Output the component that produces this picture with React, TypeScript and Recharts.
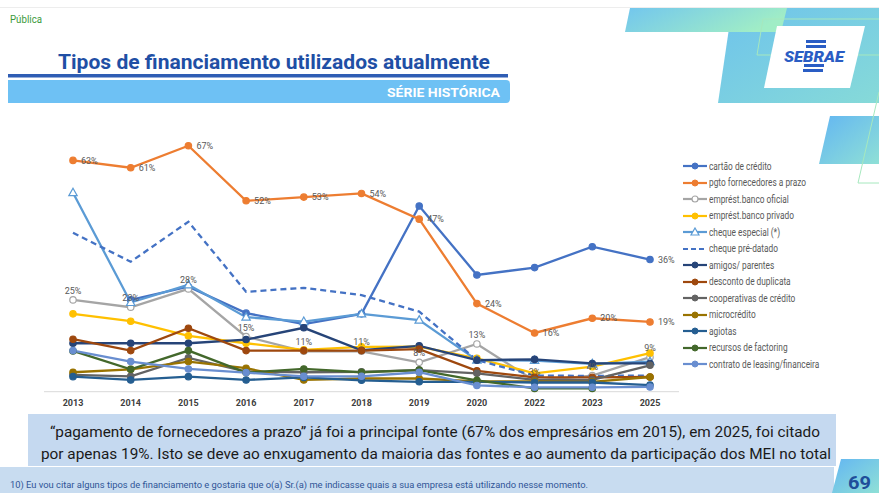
import React from 'react';
import { LineChart, Line, XAxis, YAxis, Legend, LabelList } from 'recharts';

const years = ['2013', '2014', '2015', '2016', '2017', '2018', '2019', '2020', '2022', '2023', '2025'];

const cartaoCredito = [null, 25, 28.6, 21.4, 18.4, 21.2, 50.6, 31.8, 33.8, 39.5, 36];
const pgtoFornecedores = [63, 61, 67, 52, 53, 54, 47, 24, 16, 20, 19];
const emprestOficial = [25, 23, 28, 15, 11, 11, 8, 13, 3, 4.4, 9.4];
const emprestPrivado = [21.2, 19.2, 15.2, 13.2, 11.4, 12.2, 12.3, 9.1, 5, 6.8, 10.5];
const chequeEspecial = [54.2, 24.3, 29.1, 20.3, 19.1, 21.2, 19.5, 8.6, 8.5, 7.6, 8.2];
const chequePreDatado = [43.3, 35.4, 46.3, 27.2, 28.3, 26.3, 21.8, 8.6, 4.4, 4.3, 4.4];
const amigosParentes = [13.2, 13.2, 13.2, 14.2, 17.4, 11.3, 12.5, 8.6, 8.8, 7.7, 7.7];
const descontoDuplicata = [14.3, 11.2, 17.3, 11.2, 11.2, 11.2, 11.6, 5.7, 3.9, 3.9, 4];
const cooperativas = [4.6, 4.2, 9.2, 5.5, 5.3, 5.4, 5.9, 5, 3.2, 3.2, 7.2];
const microcredito = [5.3, 6.1, 8.2, 6.4, 3.2, 3.6, 3.6, 2.8, 2.8, 2.7, 4];
const agiotas = [4.1, 3.2, 4.1, 3.2, 3.9, 3.1, 2.7, 2.7, 2.5, 2.5, 1.8];
const factoring = [11.1, 6.1, 11.2, 5.2, 6.2, 5.3, 5.9, 3.1, 0.9, 0.9, null];
const leasing = [11.2, 8.2, 6.2, 5.2, 4.2, 4.2, 5.3, 1.7, 1.2, 1.2, 1.3];

const pgtoLabels = ['63%', '61%', '67%', '52%', '53%', '54%', '47%', '24%', '16%', '20%', '19%'];
const oficialLabels = ['25%', '23%', '28%', '15%', '11%', '11%', '8%', '13%', '3%', '4%', '9%'];
const cartaoLabels = ['', '', '', '', '', '', '', '', '', '', '36%'];

const FONT = 'Roboto, "Noto Sans", sans-serif';

type Marker = 'dot' | 'hollow' | 'triangle' | 'none';
interface SeriesDef {
  key: string;
  name: string;
  color: string;
  values: (number | null)[];
  marker: Marker;
  dash?: string;
  labels?: string[];
  labelPos?: 'right' | 'top';
}

const series: SeriesDef[] = [
  { key: 's0', name: 'cartão de crédito', color: '#4472C4', values: cartaoCredito, marker: 'dot', labels: cartaoLabels, labelPos: 'right' },
  { key: 's1', name: 'pgto fornecedores a prazo', color: '#ED7D31', values: pgtoFornecedores, marker: 'dot', labels: pgtoLabels, labelPos: 'right' },
  { key: 's2', name: 'emprést.banco oficial', color: '#A5A5A5', values: emprestOficial, marker: 'hollow', labels: oficialLabels, labelPos: 'top' },
  { key: 's3', name: 'emprést.banco privado', color: '#FFC000', values: emprestPrivado, marker: 'dot' },
  { key: 's4', name: 'cheque especial (*)', color: '#5B9BD5', values: chequeEspecial, marker: 'triangle' },
  { key: 's5', name: 'cheque pré-datado', color: '#4472C4', values: chequePreDatado, marker: 'none', dash: '6 4' },
  { key: 's6', name: 'amigos/ parentes', color: '#264478', values: amigosParentes, marker: 'dot' },
  { key: 's7', name: 'desconto de duplicata', color: '#9E480E', values: descontoDuplicata, marker: 'dot' },
  { key: 's8', name: 'cooperativas de crédito', color: '#636363', values: cooperativas, marker: 'dot' },
  { key: 's9', name: 'microcrédito', color: '#997300', values: microcredito, marker: 'dot' },
  { key: 's10', name: 'agiotas', color: '#255E91', values: agiotas, marker: 'dot' },
  { key: 's11', name: 'recursos de factoring', color: '#43682B', values: factoring, marker: 'dot' },
  { key: 's12', name: 'contrato de leasing/financeira', color: '#698ED0', values: leasing, marker: 'dot' },
];

const data = years.map((year, i) => {
  const row: Record<string, any> = { year };
  series.forEach((s) => {
    row[s.key] = s.values[i];
    if (s.labels) row[s.key + 'L'] = s.labels[i];
  });
  return row;
});

const makeDot = (s: SeriesDef) => {
  if (s.marker === 'none') return false as const;
  if (s.marker === 'triangle') {
    return (props: any) => {
      const { cx, cy, index } = props;
      if (cx == null || cy == null || isNaN(cy)) return <g key={index} />;
      return (
        <path
          key={index}
          d={`M${cx},${cy - 4.5} L${cx + 4.2},${cy + 3} L${cx - 4.2},${cy + 3} Z`}
          fill="#ffffff"
          stroke={s.color}
          strokeWidth={1.2}
        />
      );
    };
  }
  return {
    r: 3.2,
    fill: s.marker === 'hollow' ? '#ffffff' : s.color,
    stroke: s.color,
    strokeWidth: 1.2,
  };
};

const LegendMarker = ({ s }: { s: SeriesDef }) => (
  <svg width={26} height={10} style={{ display: 'block', flex: 'none' }}>
    <line x1={1} x2={25} y1={5} y2={5} stroke={s.color} strokeWidth={2.2} strokeDasharray={s.dash ? '5 3' : undefined} />
    {s.marker === 'dot' && <circle cx={13} cy={5} r={3} fill={s.color} stroke={s.color} />}
    {s.marker === 'hollow' && <circle cx={13} cy={5} r={3} fill="#fff" stroke={s.color} strokeWidth={1.2} />}
    {s.marker === 'triangle' && <path d="M13,1 L17,8 L9,8 Z" fill="#fff" stroke={s.color} strokeWidth={1.2} />}
  </svg>
);

const renderLegend = () => (
  <div style={{ fontFamily: FONT }}>
    {series.map((s) => (
      <div key={s.key} style={{ display: 'flex', alignItems: 'center', height: 16.5 }}>
        <LegendMarker s={s} />
        <span
          style={{
            fontSize: 10,
            color: '#595959',
            marginLeft: 1,
            whiteSpace: 'nowrap',
            display: 'inline-block',
            transform: 'scaleX(0.83)',
            transformOrigin: 'left center',
          }}
        >
          {s.name}
        </span>
      </div>
    ))}
  </div>
);

const Decor = () => (
  <svg width={879} height={493} style={{ position: 'absolute', left: 0, top: 0 }}>
    <defs>
      <linearGradient id="gA" x1="0" y1="0" x2="1" y2="0.3">
        <stop offset="0" stopColor="#72C6EE" />
        <stop offset="1" stopColor="#A0EDC6" />
      </linearGradient>
      <linearGradient id="gB" x1="0" y1="0" x2="1" y2="1">
        <stop offset="0" stopColor="#6EC3EC" />
        <stop offset="1" stopColor="#86DAD8" />
      </linearGradient>
      <linearGradient id="gC" x1="0" y1="0" x2="1" y2="1">
        <stop offset="0" stopColor="#63B6F2" />
        <stop offset="1" stopColor="#8FE0D6" />
      </linearGradient>
    </defs>
    <rect x={0} y={7} width={879} height={1} fill="#EDEDED" />
    <polygon points="732,8 879,8 879,103 718,103" fill="url(#gB)" />
    <polygon points="630,8 787,8 781,32 625,32" fill="url(#gA)" />
    <polyline points="879,19 763,19 757,55 879,55" fill="none" stroke="#A6E8BE" strokeWidth={1} />
    <polygon points="777,26 865,26 850,88 764,88" fill="#ffffff" />
    <polygon points="830,116 879,116 879,164 819,164" fill="url(#gC)" />
    <polyline points="879,92 858,183 879,183" fill="none" stroke="#A6E8BE" strokeWidth={1} />
    <rect x={806} y={40} width={20} height={3} fill="#2A5DC4" />
    <rect x={806} y={45} width={20} height={3} fill="#2A5DC4" />
    <rect x={804} y={64} width={20} height={3} fill="#2A5DC4" />
    <rect x={803} y={69} width={20} height={3} fill="#2A5DC4" />
    <text x={784} y={62} textLength={60} lengthAdjust="spacingAndGlyphs" fontFamily={FONT} fontWeight={900} fontStyle="italic" fontSize={15} fill="#2A5DC4">SEBRAE</text>

    <text x={10} y={23} textLength={32} lengthAdjust="spacingAndGlyphs" fontFamily={FONT} fontSize={10} fill="#3A9A3A">Pública</text>
    <text x={58} y={69} textLength={432} lengthAdjust="spacingAndGlyphs" fontFamily={FONT} fontWeight={700} fontSize={21} fill="#1F4FA5">
      Tipos de financiamento utilizados atualmente
    </text>
    <rect x={8} y={74} width={500} height={3.5} fill="#2F5DB4" />
    <path d="M8,80 L506,80 Q510,80 510,84 L510,99 Q510,103 506,103 L8,103 Z" fill="#6EC1F4" />
    <text x={387} y={97} textLength={113} lengthAdjust="spacingAndGlyphs" fontFamily={FONT} fontWeight={700} fontSize={12.5} fill="#ffffff">SÉRIE HISTÓRICA</text>

    <rect x={28} y={414} width={808} height={52} fill="#C5D9F0" />
    <text x={50} y={437} textLength={770} lengthAdjust="spacingAndGlyphs" fontFamily={FONT} fontSize={14.5} fill="#1a1a1a">
      “pagamento de fornecedores a prazo” já foi a principal fonte (67% dos empresários em 2015), em 2025, foi citado
    </text>
    <text x={41} y={459} textLength={790} lengthAdjust="spacingAndGlyphs" fontFamily={FONT} fontSize={14.5} fill="#1a1a1a">
      por apenas 19%. Isto se deve ao enxugamento da maioria das fontes e ao aumento da participação dos  MEI no total
    </text>
    <rect x={0} y={467} width={834} height={26} fill="#C8DCF0" />
    <text x={10} y={488} textLength={578} lengthAdjust="spacingAndGlyphs" fontFamily={FONT} fontSize={8.5} fill="#2F5597">
      10) Eu vou citar alguns tipos de financiamento e gostaria que o(a) Sr.(a) me indicasse quais a sua empresa está utilizando nesse momento.
    </text>
    <polygon points="841,459 879,459 879,493 832,493" fill="url(#gC)" />
    <text x={848} y={489} textLength={23} lengthAdjust="spacingAndGlyphs" fontFamily={FONT} fontWeight={700} fontSize={18} fill="#1F4E9A">69</text>
  </svg>
);

export default function App() {
  return (
    <div style={{ position: 'absolute', left: 0, top: 0, width: 879, height: 493, overflow: 'hidden', background: '#ffffff', fontFamily: FONT }}>
      <Decor />
      <div style={{ position: 'absolute', left: 0, top: 0 }}>
        <LineChart width={879} height={493} data={data} margin={{ top: 134.7, right: 200, bottom: 71.3, left: 44 }}>
          <XAxis
            dataKey="year"
            padding={{ left: 29, right: 29 }}
            axisLine={{ stroke: '#D9D9D9', strokeWidth: 1 }}
            tickLine={false}
            tick={{ fontSize: 9, fontWeight: 700, fill: '#404040', fontFamily: FONT }}
            interval={0}
          />
          <YAxis hide domain={[0, 70]} />
          <Legend
            layout="horizontal"
            align="center"
            verticalAlign="middle"
            wrapperStyle={{ left: 682, top: 158, width: 195 }}
            content={renderLegend}
          />
          {series.map((s) => (
            <Line
              key={s.key}
              dataKey={s.key}
              name={s.name}
              stroke={s.color}
              strokeWidth={2.3}
              strokeDasharray={s.dash}
              dot={makeDot(s) as any}
              activeDot={false}
              isAnimationActive={false}
              connectNulls={false}
            >
              {s.labels && (
                <LabelList
                  dataKey={s.key + 'L'}
                  position={s.labelPos}
                  offset={s.labelPos === 'right' ? 8 : 6}
                  style={{ fontSize: 9, fill: '#595959', fontFamily: FONT }}
                />
              )}
            </Line>
          ))}
        </LineChart>
      </div>
    </div>
  );
}
